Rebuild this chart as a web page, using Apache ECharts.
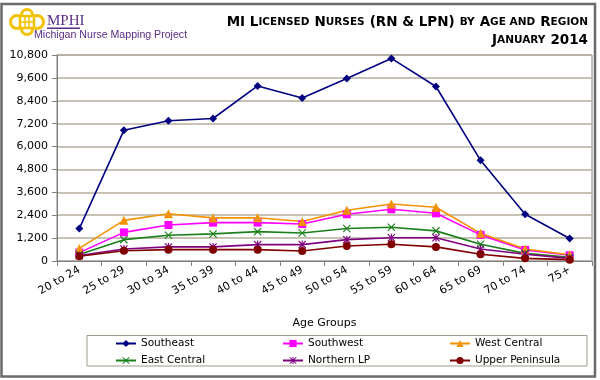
<!DOCTYPE html>
<html><head><meta charset="utf-8">
<script src="https://cdn.jsdelivr.net/npm/echarts@6/dist/echarts.min.js"></script>
<style>html,body{margin:0;padding:0;background:#fff}#c{width:600px;height:380px}</style>
</head><body><div id="c"></div>
<script>
const categories = ["20 to 24","25 to 29","30 to 34","35 to 39","40 to 44","45 to 49","50 to 54","55 to 59","60 to 64","65 to 69","70 to 74","75+"];
const southeast = [1700, 6850, 7350, 7470, 9180, 8550, 9570, 10620, 9150, 5280, 2450, 1180];
const southwest = [440, 1500, 1890, 2010, 2010, 1940, 2450, 2710, 2500, 1370, 580, 300];
const westCentral = [660, 2130, 2480, 2260, 2270, 2070, 2660, 2990, 2820, 1450, 630, 330];
const eastCentral = [340, 1120, 1350, 1420, 1540, 1470, 1700, 1770, 1580, 880, 400, 190];
const northernLP = [290, 630, 740, 740, 860, 860, 1120, 1220, 1220, 630, 350, 140];
const upperPeninsula = [245, 540, 595, 595, 595, 525, 790, 875, 740, 350, 140, 70];
const seriesNames = ["Southeast","Southwest","West Central","East Central","Northern LP","Upper Peninsula"];

const F = "DejaVu Sans, Verdana, sans-serif";
const xSym = 'path://M1,0 L5,4 L9,0 L10,1 L6,5 L10,9 L9,10 L5,6 L1,10 L0,9 L4,5 L0,1 Z';
const starSym = 'path://M1,0 L5,4 L9,0 L10,1 L6,5 L10,9 L9,10 L5,6 L1,10 L0,9 L4,5 L0,1 Z M4.3,0 L5.7,0 L5.7,10 L4.3,10 Z';

function mk(name, data, color, symbol, size) {
  return {name, type:'line', data, symbol, symbolSize:size, showSymbol:true,
    lineStyle:{color, width:1.6}, itemStyle:{color, borderWidth:0}, emphasis:{disabled:true}, animation:false};
}

const chart = echarts.init(document.getElementById('c'), null, {renderer:'canvas'});
const bigS = {fontFamily:F, fontWeight:'bold', fontSize:13.5, color:'#000'};
const smS = {fontFamily:F, fontWeight:'bold', fontSize:10.5, color:'#000'};
const legText = {fontFamily:F, fontSize:10.5, color:'#000'};
const legBase = {orient:'vertical', top:338, padding:0, itemWidth:20, itemHeight:9, itemGap:6, textStyle:legText};
chart.setOption({
  animation:false,
  title:[
    {text:'{b|MI L}{s|ICENSED} {b|N}{s|URSES} {b|(RN & LPN)} {s|BY} {b|A}{s|GE AND} {b|R}{s|EGION}',
     right:12, top:13, padding:0, textStyle:{rich:{b:bigS, s:smS}}},
    {text:'{b|J}{s|ANUARY} {b|2014}', right:12, top:31, padding:0, textStyle:{rich:{b:bigS, s:smS}}}
  ],
  grid:{left:57, right:8, top:55, bottom:119, show:true, borderColor:'#808080', borderWidth:1},
  xAxis:{type:'category', data:categories, boundaryGap:true,
    name:'Age Groups', nameLocation:'middle', nameGap:57,
    nameTextStyle:{fontFamily:F, fontSize:11, color:'#000'},
    axisLine:{lineStyle:{color:'#808080'}},
    axisTick:{show:true, length:5, lineStyle:{color:'#808080'}},
    axisLabel:{rotate:30, margin:8, fontFamily:F, fontSize:11, color:'#000'}},
  yAxis:{type:'value', min:0, max:10800, interval:1200,
    axisLine:{show:true, lineStyle:{color:'#808080'}},
    axisTick:{show:true, length:5, lineStyle:{color:'#808080'}},
    axisLabel:{fontFamily:F, fontSize:11, color:'#000', margin:9},
    splitLine:{lineStyle:{color:'#b5ad9e', width:1.5}}},
  legend:[
    Object.assign({}, legBase, {left:115, data:[seriesNames[0], seriesNames[3]]}),
    Object.assign({}, legBase, {left:282, data:[seriesNames[1], seriesNames[4]]}),
    Object.assign({}, legBase, {left:449, data:[seriesNames[2], seriesNames[5]]})
  ],
  series:[
    mk(seriesNames[0], southeast, '#000080', 'diamond', 8),
    mk(seriesNames[1], southwest, '#FF00FF', 'rect', 8),
    mk(seriesNames[2], westCentral, '#F39200', 'triangle', 9),
    mk(seriesNames[3], eastCentral, '#1A7F1A', xSym, 8),
    mk(seriesNames[4], northernLP, '#800080', starSym, 8),
    mk(seriesNames[5], upperPeninsula, '#800000', 'circle', 8)
  ],
  graphic:[
    {type:'rect', shape:{x:1.5, y:4, width:593.5, height:372.5}, style:{fill:'none', stroke:'#6a6a6a', lineWidth:2.5}, silent:true},
    {type:'rect', shape:{x:87, y:335.5, width:500, height:30.5}, style:{fill:'none', stroke:'#a09a8c', lineWidth:1}, silent:true},
    {type:'group', silent:true, children:[
      {type:'circle', shape:{cx:17, cy:22, r:6.5}, style:{fill:'none', stroke:'#F2C200', lineWidth:3}},
      {type:'circle', shape:{cx:37, cy:22, r:6.5}, style:{fill:'none', stroke:'#F2C200', lineWidth:3}},
      {type:'circle', shape:{cx:27, cy:15, r:5.5}, style:{fill:'none', stroke:'#F2C200', lineWidth:3}},
      {type:'circle', shape:{cx:27, cy:29, r:5.5}, style:{fill:'none', stroke:'#F2C200', lineWidth:3}},
      {type:'rect', shape:{x:20, y:16, width:14, height:12}, style:{fill:'#fff', stroke:'#F2C200', lineWidth:2.5}},
      {type:'line', shape:{x1:25, y1:16, x2:25, y2:28}, style:{stroke:'#F2C200', lineWidth:1.5}},
      {type:'line', shape:{x1:29, y1:16, x2:29, y2:28}, style:{stroke:'#F2C200', lineWidth:1.5}},
      {type:'line', shape:{x1:20, y1:22, x2:34, y2:22}, style:{stroke:'#F2C200', lineWidth:1.5}},
      {type:'text', x:47, y:14, style:{text:'MPHI', font:'15px "Liberation Serif", serif', fill:'#5B2C86'}},
      {type:'rect', shape:{x:47, y:27.5, width:33, height:1.5}, style:{fill:'#5B2C86'}},
      {type:'text', x:34, y:30, style:{text:'Michigan Nurse Mapping Project', font:'10.6px "Liberation Sans", Arial, sans-serif', fill:'#5B2C86'}}
    ]}
  ]
});
</script></body></html>
